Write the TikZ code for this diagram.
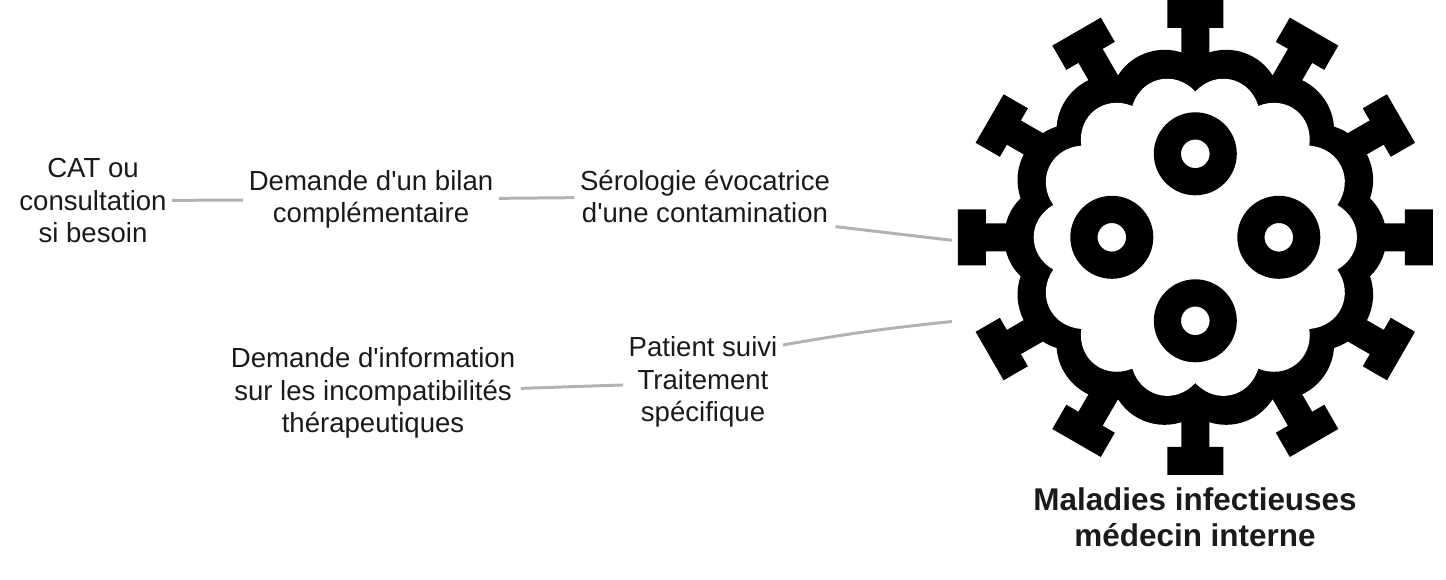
\documentclass[tikz,border=0pt]{standalone}
\usepackage{fontspec}
\setmainfont[Ligatures=TeXOff]{Liberation Sans}
\begin{document}
\begin{tikzpicture}[x=0.02cm, y=0.02cm]
\tikzstyle{every node}+=[inner sep=3pt, align=center, text={rgb,255:red,26;green,26;blue,26}, font=\fontsize{15.7}{18.5}\selectfont]
\tikzstyle{link}=[draw={rgb,255:red,178;green,178;blue,178}, line width=1.7pt]
\tikzstyle{virus}=[black, even odd rule]
\useasboundingbox (0,0) rectangle (1446,-580);
\begin{scope}[shift={(1195.3,-237.3)}]
\foreach \a in {0,30,...,330}
  \fill [black, rotate=\a] (-14,150) -- (-14,209.5) -- (-28,209.5) -- (-28,237.5) -- (28,237.5) -- (28,209.5) -- (14,209.5) -- (14,150) -- cycle;
\fill [black] (0,178) foreach \x/\y in {77/162.3,138.7/110.7,174.7/39,174.7/-39,138.7/-110.7,77/-162.3,0/-178,-77/-162.3,-138.7/-110.7,-174.7/-39,-174.7/39,-138.7/110.7,-77/162.3,0/178} { to [bend left=46] (\x,\y) };
\fill [white] (0,145.7) foreach \x/\y in {63/131.3,114/91.7,142/32.3,142/-32.3,114/-91.7,63/-131.3,0/-145.7,-63/-131.3,-114/-91.7,-142/-32.3,-142/32.3,-114/91.7,-63/131.3,0/145.7} { to [bend left=60, looseness=1.2] (\x,\y) };
\foreach \a in {0,90,180,270}
  \fill [virus, rotate=\a] (83.5,0) circle (41.5) (83.5,0) circle (14.3);
\coordinate (virusA) at (-243.3,-3);
\coordinate (virusB) at (-243.3,-84.2);
\end{scope}
\draw (93,-200.7) node (cat) {CAT ou\\consultation\\si besoin};
\draw (371,-199.5) node (bilan) {Demande d'un bilan\\complémentaire};
\draw (705,-196.5) node (sero) {Sérologie évocatrice\\d'une contamination};
\draw (373,-393.3) node (info) {Demande d'information\\sur les incompatibilités\\thérapeutiques};
\draw (703,-382.3) node (patient) {Patient suivi\\Traitement\\spécifique};
\draw (1195,-517) node (title) [font=\fontsize{17.9}{20.5}\selectfont\bfseries] {Maladies infectieuses\\médecin interne};
\draw [link] (cat) -- (bilan);
\draw [link] (bilan) -- (sero);
\draw [link] (sero.-13) -- (virusA);
\draw [link] (info) -- (patient);
\draw [link] (patient.25) to [bend left=2] (virusB);
\end{tikzpicture}
\end{document}
